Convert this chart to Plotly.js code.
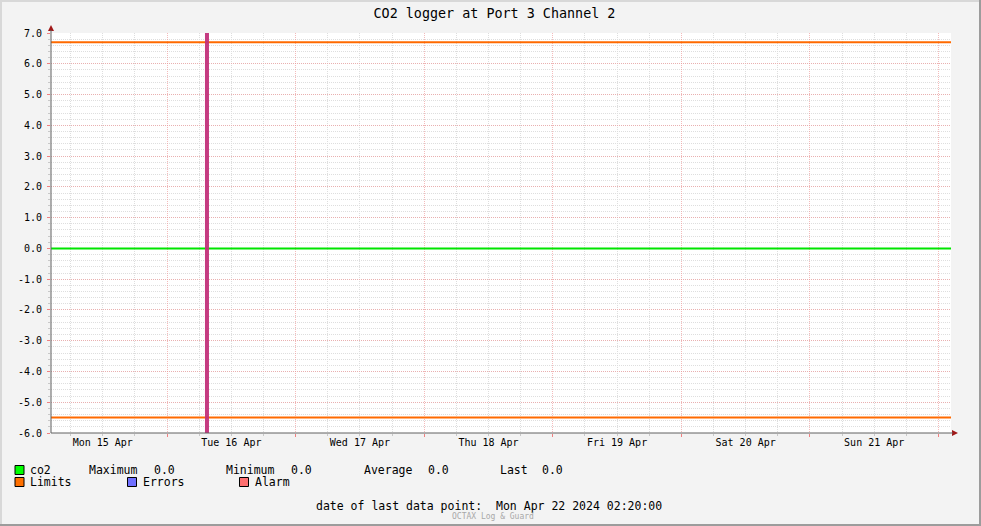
<!DOCTYPE html>
<html>
<head>
<meta charset="utf-8">
<script src="https://cdn.plot.ly/plotly-3.0.1.min.js"></script>
<style>
  html, body { margin: 0; padding: 0; background: #f3f3f3; }
  #chart { width: 981px; height: 526px; }
</style>
</head>
<body>
<div id="chart"></div>
<script>
// ---------------- data ----------------
const chartTitle = 'CO2 logger at Port 3 Channel 2';
const timeRange = ['2024-04-15 02:20:00', '2024-04-22 02:20:00'];
const co2Times = ['2024-04-15 02:20:00', '2024-04-22 02:20:00'];
const co2Values = [0.0, 0.0];
const limitTimes = ['2024-04-15 02:20:00', '2024-04-22 02:20:00'];
const upperLimit = [6.7, 6.7];
const lowerLimit = [-5.5, -5.5];
const alarmTimes = ['2024-04-16 07:27:00', '2024-04-16 07:27:00'];
const alarmSpan = [-6.0, 7.0];
const yRange = [-6.0, 7.0];
const yTickValues = [-6, -5, -4, -3, -2, -1, 0, 1, 2, 3, 4, 5, 6, 7];
const yTickLabels = yTickValues.map(v => v.toFixed(1));
const statNames = ['Maximum', 'Minimum', 'Average', 'Last'];
const statValues = ['0.0', '0.0', '0.0', '0.0'];
const legendNames = ['co2', 'Limits', 'Errors', 'Alarm'];
const lastDataText = 'date of last data point:\u00a0\u00a0Mon Apr 22 2024 02:20:00';
const footerText = 'OCTAX Log & Guard';

// ---------------- layout helpers ----------------
const W = 981, H = 526;
const PL = 51, PR = 951, PT = 33, PB = 433;
const px = x => (x - PL) / (PR - PL);
const py = y => (PB - y) / (PB - PT);
const MONO = 'DejaVu Sans Mono, monospace';
const MAJOR_GRID = 'rgba(238,150,150,0.65)';
const MINOR_GRID = '#dedede';

const traces = [
  { x: limitTimes, y: upperLimit, type: 'scatter', mode: 'lines',
    line: { color: '#ff6a00', width: 2 }, hoverinfo: 'skip', showlegend: false },
  { x: limitTimes, y: lowerLimit, type: 'scatter', mode: 'lines',
    line: { color: '#ff6a00', width: 2 }, hoverinfo: 'skip', showlegend: false },
  { x: co2Times, y: co2Values, type: 'scatter', mode: 'lines',
    line: { color: '#00e600', width: 2 }, hoverinfo: 'skip', showlegend: false },
  { x: alarmTimes, y: alarmSpan, type: 'scatter', mode: 'lines',
    line: { color: '#c2307a', width: 4 }, opacity: 0.95, hoverinfo: 'skip', showlegend: false }
];

const annotations = [];
function txt(x, y, text, size, color, anchor) {
  annotations.push({ xref: 'paper', yref: 'paper', x: px(x), y: py(y), text: text,
    showarrow: false, xanchor: anchor || 'left', yanchor: 'middle', borderpad: 0,
    font: { family: MONO, size: size, color: color || '#000' } });
}
// legend row 1
txt(29, 470, legendNames[0], 11.5);
const statX = [88, 225, 363, 499];
const valX = [153, 290, 427, 541];
statNames.forEach((s, i) => { txt(statX[i], 470, s, 11.5); txt(valX[i], 470, statValues[i], 11.5); });
// legend row 2
txt(29, 482, legendNames[1], 11.5);
txt(142, 482, legendNames[2], 11.5);
txt(254, 482, legendNames[3], 11.5);
// bottom texts
txt(315, 506, lastDataText, 11.5);
txt(493, 516, footerText, 8, '#a8a8a8', 'center');

const shapes = [];
function box(x0, y0, color) {
  shapes.push({ type: 'rect', xref: 'paper', yref: 'paper', x0: px(x0), x1: px(x0 + 9),
    y0: py(y0), y1: py(y0 + 9), fillcolor: color, line: { color: '#000', width: 1 } });
}
box(15, 465.5, '#00ff00');
box(15, 477.5, '#ff7000');
box(127.5, 477.5, '#7070ff');
box(239.5, 477.5, '#ff7070');
// axis arrows
shapes.push({ type: 'path', xref: 'paper', yref: 'paper',
  path: `M ${px(48)},${py(31)} L ${px(54)},${py(31)} L ${px(51)},${py(25)} Z`,
  fillcolor: '#a01818', line: { width: 0 } });
shapes.push({ type: 'line', xref: 'paper', yref: 'paper', x0: px(51), x1: px(51), y0: py(433), y1: py(30),
  line: { color: '#606060', width: 1 } });
shapes.push({ type: 'path', xref: 'paper', yref: 'paper',
  path: `M ${px(952)},${py(430)} L ${px(952)},${py(436)} L ${px(958)},${py(433)} Z`,
  fillcolor: '#a01818', line: { width: 0 } });
shapes.push({ type: 'line', xref: 'paper', yref: 'paper', x0: px(51), x1: px(953), y0: py(433), y1: py(433),
  line: { color: '#606060', width: 1 } });
// image frame
shapes.push({ type: 'rect', xref: 'paper', yref: 'paper', x0: px(0), x1: px(2), y0: py(0), y1: py(H),
  fillcolor: '#d8d8d8', line: { width: 0 }, layer: 'below' });
shapes.push({ type: 'rect', xref: 'paper', yref: 'paper', x0: px(0), x1: px(W), y0: py(0), y1: py(2),
  fillcolor: '#d8d8d8', line: { width: 0 }, layer: 'below' });
shapes.push({ type: 'rect', xref: 'paper', yref: 'paper', x0: px(W - 2), x1: px(W), y0: py(0), y1: py(H),
  fillcolor: '#9c9c9c', line: { width: 0 } });
shapes.push({ type: 'rect', xref: 'paper', yref: 'paper', x0: px(0), x1: px(W), y0: py(H - 2), y1: py(H),
  fillcolor: '#9c9c9c', line: { width: 0 } });

const layout = {
  width: W, height: H,
  margin: { l: PL, r: W - PR, t: PT, b: H - PB, pad: 0 },
  paper_bgcolor: '#f3f3f3',
  plot_bgcolor: '#ffffff',
  showlegend: false,
  title: { text: chartTitle, x: px(494.5), xref: 'paper', xanchor: 'center', y: 1 - 13 / H, yanchor: 'middle',
    font: { family: MONO, size: 13.4, color: '#000' } },
  xaxis: {
    type: 'date', range: timeRange, fixedrange: true,
    tick0: '2024-04-15 00:00:00', dtick: 86400000,
    ticklabelmode: 'period', tickformat: '%a %d %b',
    ticks: 'outside', ticklen: 3, tickcolor: '#f08080', tickwidth: 1,
    showgrid: true, gridcolor: MAJOR_GRID, griddash: '1px,1px', gridwidth: 1,
    minor: { tick0: '2024-04-15 00:00:00', dtick: 21600000, showgrid: true, gridcolor: MINOR_GRID,
      griddash: '1px,1px', gridwidth: 1, ticks: 'outside', ticklen: 2, tickcolor: '#c8c8c8' },
    showline: false, zeroline: false,
    tickfont: { family: MONO, size: 10, color: '#000' },
    ticklabelstandoff: -3
  },
  yaxis: {
    range: yRange, fixedrange: true,
    tickvals: yTickValues, ticktext: yTickLabels,
    ticks: 'outside', ticklen: 3, tickcolor: '#f08080', tickwidth: 1,
    showgrid: true, gridcolor: MAJOR_GRID, griddash: '1px,1px', gridwidth: 1,
    minor: { dtick: 0.2, tick0: 0, showgrid: true, gridcolor: MINOR_GRID, griddash: '1px,1px', gridwidth: 1,
      ticks: 'outside', ticklen: 2, tickcolor: '#c8c8c8' },
    showline: false, zeroline: false,
    tickfont: { family: MONO, size: 10, color: '#000' },
    ticklabelstandoff: 3
  },
  annotations: annotations,
  shapes: shapes
};

Plotly.newPlot('chart', traces, layout, { staticPlot: true, displayModeBar: false });
</script>
</body>
</html>
